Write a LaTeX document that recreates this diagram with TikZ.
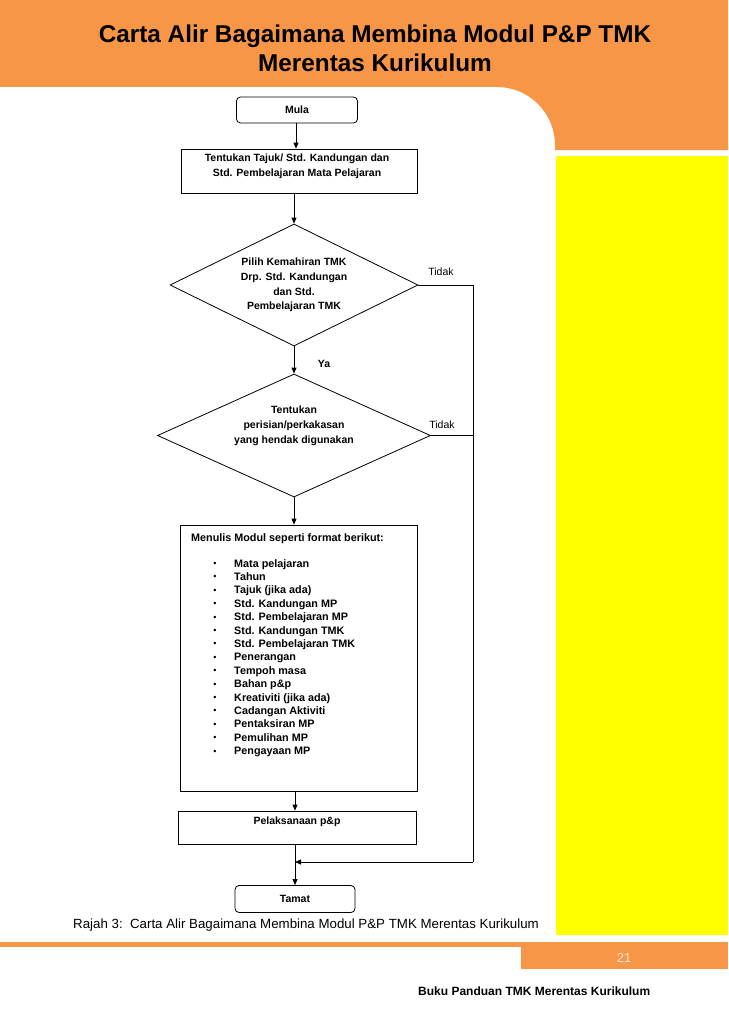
\documentclass[tikz,border=0pt]{standalone}
\usepackage{fontspec}
\setmainfont{Liberation Sans}
\usetikzlibrary{arrows.meta,shapes.geometric}
\definecolor{orng}{HTML}{F79646}
\definecolor{yel}{HTML}{FFFF00}
\definecolor{pagenum}{HTML}{FDE9D9}
\tikzset{
  arr/.style={draw,line width=0.8pt,-{Triangle[length=6pt,width=5pt]}},
  conn/.style={draw,line width=0.8pt},
  stepbox/.style={draw,line width=0.8pt,inner sep=0pt},
  termbox/.style={draw,line width=0.8pt,rounded corners=4pt,inner sep=0pt,font=\fontsize{10.5}{12}\selectfont\bfseries},
  decis/.style={draw,line width=0.8pt,diamond,inner sep=0pt},
  btext/.style={align=center,inner sep=0pt,font=\fontsize{10.5}{14.8}\selectfont\bfseries},
  itemtext/.style={anchor=base west,inner sep=0pt,font=\fontsize{10.8}{12}\selectfont\bfseries},
  lbl/.style={inner sep=0pt,font=\fontsize{10.5}{12}\selectfont},
}
\begin{document}
\begin{tikzpicture}[x=1pt,y=-1pt]
\useasboundingbox (0,0) rectangle (728,1030);
% header
\fill[orng] (0,0) -- (728,0) -- (728,150) -- (555,150) [rounded corners=58pt] -- (555,87) [sharp corners] -- (0,87) -- cycle;
\node[inner sep=0pt,align=center,font=\fontsize{24.3}{29}\selectfont\bfseries] (title) at (375,48) {Carta Alir Bagaimana Membina Modul P\&P TMK\\Merentas Kurikulum};
% yellow side panel
\fill[yel] (556,156) rectangle (728,935);
% footer bars
\fill[orng] (0,942) rectangle (728,947);
\fill[orng] (521,947) rectangle (728,969);
\node[inner sep=0pt,text=pagenum,font=\fontsize{13}{15}\selectfont] (pnum) at (624,958) {21};
\node[inner sep=0pt,anchor=west,font=\fontsize{12}{14}\selectfont\bfseries] (foot) at (418,991) {Buku Panduan TMK Merentas Kurikulum};
\node[inner sep=0pt,anchor=west,font=\fontsize{13.3}{15}\selectfont] (cap) at (73,925) {Rajah 3:\ \ Carta Alir Bagaimana Membina Modul P\&P TMK Merentas Kurikulum};
% flowchart
\node[termbox,minimum width=121pt,minimum height=26pt] (mula) at (297,110) {Mula};
\node[stepbox,minimum width=236pt,minimum height=44pt] (b1) at (299,171) {};
\node[btext] (b1t) at (297,166.5) {Tentukan Tajuk/ Std. Kandungan dan\\Std. Pembelajaran Mata Pelajaran};
\node[decis,minimum width=248pt,minimum height=122pt] (d1) at (294,285) {};
\node[btext] (d1t) at (294,285) {Pilih Kemahiran TMK\\Drp. Std. Kandungan\\dan Std.\\Pembelajaran TMK};
\node[decis,minimum width=273pt,minimum height=123pt] (d2) at (294,435.5) {};
\node[btext] (d2t) at (294,426) {Tentukan\\perisian/perkakasan\\yang hendak digunakan};
\node[stepbox,minimum width=237pt,minimum height=266pt] (b2) at (298.5,658) {};
\node[itemtext] (b2t) at (191,541) {Menulis Modul seperti format berikut:};
\foreach \t [count=\i] in {Mata pelajaran,Tahun,Tajuk (jika ada),Std. Kandungan MP,Std. Pembelajaran MP,Std. Kandungan TMK,Std. Pembelajaran TMK,Penerangan,Tempoh masa,Bahan p\&p,Kreativiti (jika ada),Cadangan Aktiviti,Pentaksiran MP,Pemulihan MP,Pengayaan MP}{
  \node[itemtext] (it\i) at (234,{567+(\i-1)*13.4}) {\t};
  \node[inner sep=0pt,anchor=base,font=\fontsize{9}{10}\selectfont] (bu\i) at (215,{566.5+(\i-1)*13.4}) {\textbullet};
}
\node[stepbox,minimum width=238pt,minimum height=33pt] (b3) at (297,827.5) {};
\node[btext] (b3t) at (297,822) {Pelaksanaan p\&p};
\node[termbox,minimum width=120pt,minimum height=27pt] (tamat) at (295,899) {Tamat};
% labels
\node[lbl] (tidak1) at (441,272) {Tidak};
\node[lbl] (tidak2) at (442,425) {Tidak};
\node[lbl,font=\fontsize{10.5}{12}\selectfont\bfseries] (ya) at (324,364) {Ya};
% connectors
\coordinate (rt) at (473,285);
\coordinate (rm) at (473,435.5);
\coordinate (rb) at (473,862);
\coordinate (ret) at (295,862);
\draw[arr] (mula.south -| 296,0) -- (296,0 |- b1.north);
\draw[arr] (d1.north |- b1.south) -- (d1.north);
\draw[arr] (d1.south) -- (d2.north);
\draw[arr] (d2.south) -- (d2.south |- b2.north);
\draw[arr] (b2.south -| 295,0) -- (295,0 |- b3.north);
\draw[conn] (b3.south -| 295,0) -- (ret);
\draw[arr] (ret) -- (295,0 |- tamat.north);
\draw[conn] (d1.east) -- (rt) -- (rb);
\draw[conn] (d2.east) -- (rm);
\draw[arr] (rb) -- (ret);
\end{tikzpicture}
\end{document}
